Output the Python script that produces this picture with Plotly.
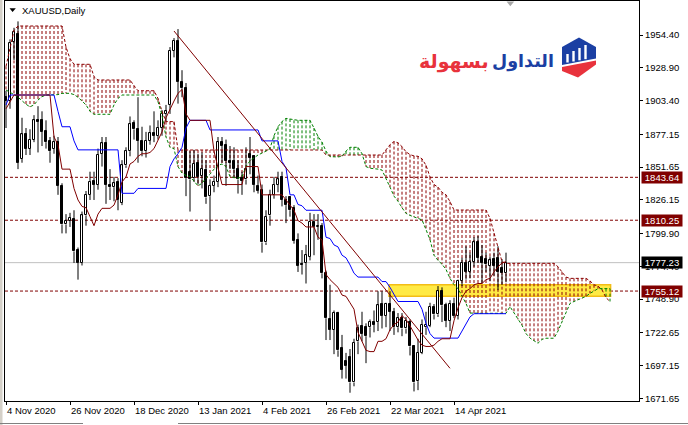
import pandas as pd
import plotly.graph_objects as go

# ---------------- data ----------------
holidays = ["2020-12-25", "2021-01-01", "2021-04-02"]
dates = [d for d in pd.bdate_range("2020-11-04", "2021-05-03")
         if d.strftime("%Y-%m-%d") not in holidays]

opens = [
    1906, 1903, 1949, 1955, 1858, 1877, 1866, 1873, 1888, 1888,
    1880, 1872, 1866, 1871, 1837, 1807, 1810, 1811, 1787, 1777,
    1814, 1830, 1841, 1838, 1862, 1870, 1838, 1836, 1840, 1824,
    1853, 1864, 1886, 1881, 1872, 1864, 1872, 1878, 1876, 1882,
    1893, 1900, 1942, 1950, 1918, 1913, 1848, 1843, 1855, 1845,
    1849, 1829, 1837, 1840, 1871, 1869, 1856, 1856, 1850, 1843,
    1842, 1862, 1860, 1837, 1834, 1793, 1814, 1830, 1838, 1844,
    1826, 1828, 1820, 1795, 1776, 1777, 1782, 1809, 1805, 1806,
    1769, 1733, 1725, 1738, 1711, 1701, 1704, 1684, 1716, 1728,
    1727, 1727, 1731, 1731, 1745, 1736, 1745, 1739, 1727, 1734,
    1726, 1731, 1712, 1685, 1707, 1727, 1728, 1743, 1737, 1755,
    1744, 1732, 1745, 1736, 1763, 1777, 1770, 1778, 1793, 1782,
    1780, 1775, 1780, 1781, 1773, 1769]
highs = [
    1911, 1951, 1960, 1965, 1890, 1882, 1881, 1892, 1899, 1895,
    1888, 1875, 1876, 1875, 1839, 1815, 1816, 1818, 1789, 1817,
    1833, 1848, 1848, 1866, 1875, 1875, 1850, 1844, 1843, 1857,
    1867, 1891, 1888, 1906, 1883, 1879, 1884, 1895, 1888, 1896,
    1900, 1945, 1952, 1959, 1927, 1917, 1864, 1865, 1862, 1863,
    1857, 1842, 1845, 1875, 1875, 1873, 1868, 1867, 1857, 1848,
    1867, 1875, 1861, 1845, 1838, 1818, 1834, 1844, 1848, 1848,
    1829, 1829, 1822, 1800, 1787, 1791, 1816, 1815, 1815, 1808,
    1771, 1760, 1740, 1739, 1721, 1707, 1710, 1718, 1729, 1739,
    1730, 1733, 1740, 1755, 1755, 1746, 1755, 1742, 1738, 1738,
    1735, 1733, 1713, 1718, 1733, 1739, 1746, 1745, 1759, 1758,
    1746, 1748, 1750, 1764, 1781, 1790, 1785, 1797, 1798, 1791,
    1785, 1782, 1785, 1790, 1780, 1785]
lows = [
    1882, 1897, 1935, 1850, 1855, 1861, 1861, 1871, 1863, 1868,
    1866, 1855, 1862, 1830, 1800, 1800, 1805, 1777, 1764, 1775,
    1806, 1826, 1826, 1834, 1852, 1823, 1826, 1825, 1818, 1822,
    1851, 1860, 1873, 1855, 1860, 1859, 1869, 1871, 1873, 1876,
    1887, 1893, 1937, 1901, 1906, 1829, 1817, 1840, 1838, 1835,
    1823, 1802, 1832, 1836, 1855, 1837, 1850, 1843, 1831, 1830,
    1838, 1846, 1832, 1831, 1785, 1791, 1806, 1827, 1832, 1821,
    1808, 1813, 1792, 1770, 1768, 1761, 1779, 1783, 1795, 1765,
    1717, 1717, 1706, 1704, 1687, 1687, 1676, 1681, 1706, 1716,
    1699, 1719, 1723, 1724, 1726, 1727, 1724, 1721, 1723, 1720,
    1722, 1705, 1677, 1678, 1706, 1721, 1727, 1733, 1735, 1731,
    1727, 1724, 1734, 1733, 1759, 1764, 1765, 1774, 1777, 1761,
    1770, 1763, 1767, 1756, 1760, 1762]
closes = [
    1903, 1948, 1957, 1855, 1877, 1866, 1873, 1888, 1887, 1879,
    1871, 1864, 1871, 1837, 1807, 1810, 1812, 1786, 1777, 1814,
    1830, 1840, 1838, 1861, 1870, 1838, 1836, 1839, 1826, 1853,
    1864, 1885, 1881, 1872, 1864, 1872, 1878, 1876, 1882, 1893,
    1895, 1942, 1950, 1918, 1913, 1843, 1842, 1854, 1844, 1850,
    1828, 1837, 1840, 1871, 1868, 1856, 1855, 1850, 1842, 1841,
    1850, 1859, 1838, 1833, 1793, 1813, 1830, 1838, 1842, 1826,
    1822, 1818, 1794, 1775, 1775.5, 1783, 1809, 1805, 1806, 1769,
    1734, 1725, 1738, 1709, 1694, 1697, 1684, 1715, 1726, 1722,
    1720, 1731, 1729, 1744, 1736, 1745, 1739, 1727, 1734, 1726,
    1732, 1712, 1684, 1707, 1729, 1729, 1743, 1737, 1755, 1744,
    1732, 1745, 1736, 1763, 1777, 1770, 1778, 1793, 1781, 1777,
    1776, 1779, 1775, 1770, 1769, 1777.23]

tenkan = [
    1897, 1902, 1907.7, 1907.7, 1907.7, 1907.7, 1907.7, 1907.7, 1907.7, 1907.7,
    1907.7, 1907.7, 1875, 1869, 1850, 1850, 1850, 1835, 1826, 1821,
    1820, 1813, 1806, 1815, 1819.5, 1819.5, 1819.5, 1822, 1830, 1840,
    1844, 1854, 1856, 1860, 1862, 1862, 1863, 1866, 1873, 1879,
    1890, 1897, 1903, 1909, 1912, 1893, 1888, 1888, 1888, 1888,
    1888, 1888, 1864, 1852, 1838, 1838, 1838, 1838, 1838, 1838,
    1852, 1852, 1852, 1852, 1830, 1830, 1830, 1830, 1830, 1830,
    1826, 1822, 1818, 1810, 1808, 1805, 1805, 1805, 1797, 1795,
    1768, 1764, 1761, 1758, 1752, 1751, 1746, 1741, 1723, 1716,
    1709, 1708, 1708, 1716, 1716, 1718, 1725, 1729, 1731, 1736,
    1733, 1728, 1722, 1717, 1713, 1712, 1712, 1713, 1716, 1718,
    1718, 1718, 1732, 1742, 1750, 1755, 1757, 1760, 1761, 1761,
    1764, 1765, 1770, 1774, 1777, 1778]
kijun = [
    1900, 1907.7, 1907.7, 1907.7, 1907.7, 1907.7, 1907.7, 1907.7, 1907.7, 1907.7,
    1907.7, 1907.7, 1907.7, 1895, 1883, 1883, 1883, 1872, 1865, 1865,
    1865, 1865, 1865, 1865, 1865, 1865, 1865, 1865, 1865, 1831.2,
    1831.2, 1831.2, 1831.2, 1835, 1835, 1835, 1835, 1835, 1835, 1835,
    1835, 1852, 1858, 1862, 1867, 1882, 1888, 1888, 1888, 1888,
    1888, 1880.5, 1880.5, 1880.5, 1880.5, 1880.5, 1880.5, 1880.5, 1880.5, 1880.5,
    1880.5, 1880.5, 1880.5, 1880.5, 1872, 1872, 1872, 1872, 1872, 1856,
    1851, 1830, 1830, 1822.5, 1821.5, 1818, 1818, 1818, 1818, 1818,
    1797, 1796, 1791, 1789.5, 1783, 1781, 1775.5, 1769, 1766, 1766,
    1766, 1766, 1766, 1766, 1762.5, 1762.5, 1758, 1752, 1747, 1747,
    1747, 1747, 1747, 1747, 1741, 1730, 1722, 1718.5, 1718.5, 1718.5,
    1718.5, 1718.5, 1718.5, 1718.5, 1724, 1730, 1735, 1737.5, 1737.5, 1737.5,
    1737.5, 1737.5, 1737.5, 1737.5, 1737.5, 1737.5]
span_a = [
    1911.6, 1910, 1908, 1906, 1903, 1900.5, 1898.5, 1900, 1903.8, 1906.4,
    1907.7, 1907.7, 1907.7, 1908, 1909, 1909, 1909, 1908, 1906, 1903,
    1900, 1895, 1892.7, 1892.7, 1892.7, 1892.7, 1892.7, 1900, 1905, 1907.7,
    1907.7, 1907.7, 1907.7, 1907.7, 1907.7, 1907.7, 1907.7, 1907.7, 1902.5, 1892,
    1875, 1867, 1866, 1852, 1847, 1845, 1844.3, 1841, 1837, 1839,
    1843, 1846, 1850, 1853, 1854, 1852, 1844.3, 1843.5, 1843, 1844,
    1852, 1856.5, 1859, 1861, 1862.5, 1864, 1866.2, 1876, 1883, 1887,
    1889.5, 1889, 1888, 1888, 1888, 1888, 1888, 1882, 1875.5, 1871,
    1864, 1859.7, 1859.5, 1859.5, 1860, 1864, 1867, 1867, 1867, 1862,
    1852, 1850.7, 1850.5, 1850, 1849.3, 1842, 1836, 1829, 1825, 1820,
    1815.6, 1814, 1813, 1812, 1810.5, 1803, 1795, 1783, 1779, 1776,
    1772, 1765, 1760, 1757, 1751, 1745.5, 1738, 1737.8, 1737.8, 1737.8,
    1737.8, 1737.8, 1737.8, 1737.8, 1737.8, 1737.8, 1743, 1738, 1733, 1728.5,
    1722, 1718.5, 1716.5, 1714.5, 1717.5, 1718.4, 1718.4, 1718.4, 1724, 1731,
    1739, 1745.5, 1747, 1748.4, 1749.2, 1751, 1753.3, 1755.5, 1757, 1757,
    1757, 1757]
span_b = [
    1930, 1945, 1958, 1961.4, 1961.4, 1961.4, 1961.4, 1961.4, 1961.4, 1961.4,
    1961.4, 1961.4, 1961.4, 1961.4, 1961.4, 1945, 1936, 1931.6, 1931.6, 1931.6,
    1931.6, 1931.6, 1922, 1919.4, 1919.4, 1919.4, 1919.4, 1919.4, 1919.4, 1919.4,
    1919.4, 1919.4, 1915, 1911, 1911, 1911, 1911, 1911, 1905, 1895,
    1887, 1887, 1887, 1864.9, 1864.9, 1864.9, 1864.9, 1864.9, 1864.9, 1864.9,
    1864.9, 1864.9, 1864.9, 1864.9, 1864.9, 1864.9, 1864.9, 1864.9, 1864.9, 1864.9,
    1864.9, 1864.9, 1864.9, 1864.9, 1864.9, 1864.9, 1864.9, 1864.9, 1864.9, 1864.9,
    1864.9, 1864.9, 1864.9, 1864.9, 1864.9, 1864.9, 1864.9, 1864.9, 1864.9, 1864.9,
    1861, 1861, 1861, 1861, 1861, 1861, 1861, 1861, 1861, 1861,
    1861, 1861, 1861, 1861, 1861, 1865, 1869, 1871.5, 1870.5, 1867.5,
    1863.5, 1861.3, 1860.3, 1860, 1858, 1853, 1844, 1838, 1836, 1832,
    1830, 1824.7, 1818.2, 1818.2, 1818.2, 1818.2, 1818.2, 1818.2, 1818.2, 1818.2,
    1818.2, 1811.7, 1800, 1788, 1778, 1776.7, 1776.7, 1776.7, 1776.7, 1776.7,
    1776.7, 1776.7, 1776.7, 1776.7, 1776.7, 1776.7, 1776.7, 1776.7, 1774, 1770,
    1766, 1765, 1765, 1765, 1765, 1765, 1763, 1760, 1759, 1756,
    1750, 1747]

x_tick_labels = ["4 Nov 2020", "26 Nov 2020", "18 Dec 2020", "13 Jan 2021",
                 "4 Feb 2021", "26 Feb 2021", "22 Mar 2021", "14 Apr 2021"]
y_tick_values = [1954.40, 1928.90, 1903.40, 1877.15, 1851.65, 1826.15,
                 1799.90, 1774.40, 1748.90, 1722.65, 1697.15, 1671.65]
level_prices = [1843.64, 1810.25, 1755.12]
current_price = 1777.23
trend_dates = ["2021-01-05", "2021-04-13"]
trend_prices = [1957.5, 1695.0]
zone_dates = ["2021-03-22"]
zone_prices = [1751.0, 1760.0]
symbol_title = "XAUUSD,Daily"
brand_blue = "التداول"
brand_red = "بسهولة"

# ---------------- geometry helpers ----------------
W, H = 688, 425
ML, MR, MT, MB = 5, 49, 1, 24
PW, PH = W - ML - MR, H - MT - MB


def px(x):
    return (x - ML) / PW


def py(y):
    return (H - MB - y) / PH


date_index = {d.strftime("%Y-%m-%d"): i for i, d in enumerate(dates)}
n = len(dates)
x_bars = list(range(n))
x_cloud = list(range(len(span_a)))
tick_idx = [date_index[pd.to_datetime(t, format="%d %b %Y").strftime("%Y-%m-%d")]
            for t in x_tick_labels]

MAROON = "#800000"
DOTRED = "#8B0000"
GREEN = "#008000"
BLUE = "#0000FF"

shapes = []
# window border bits
shapes.append(dict(type="rect", xref="paper", yref="paper", x0=px(0), x1=px(2.5),
                   y0=py(425), y1=py(0), fillcolor="#D4D0C8", line_width=0, layer="below"))
for a, b in [(0, 83), (178, 688)]:
    shapes.append(dict(type="line", xref="paper", yref="paper", x0=px(a), x1=px(b),
                       y0=py(423.5), y1=py(423.5), line=dict(color="#808080", width=1)))

# yellow zone
zs = date_index[zone_dates[0]] - 0.25
shapes.append(dict(type="rect", xref="x", yref="y", x0=zs, x1=len(span_a) - 0.85,
                   y0=zone_prices[0], y1=zone_prices[1], fillcolor="#FFEA45",
                   line=dict(color="#F3BD16", width=1.5), layer="below"))

# cloud hatching
for i in x_cloud:
    a, b = span_a[i], span_b[i]
    if abs(a - b) < 0.3:
        continue
    col = DOTRED if b > a else GREEN
    shapes.append(dict(type="line", xref="x", yref="y", x0=i, x1=i, y0=max(a, b), y1=min(a, b),
                       line=dict(color=col, width=1, dash="3px,2px"), layer="below"))

# horizontal levels
for p in level_prices:
    shapes.append(dict(type="line", xref="paper", yref="y", x0=0, x1=1, y0=p, y1=p,
                       line=dict(color=MAROON, width=1, dash="3px,2px"), layer="below"))
shapes.append(dict(type="line", xref="paper", yref="y", x0=0, x1=1, y0=current_price,
                   y1=current_price, line=dict(color="#C0C0C0", width=1), layer="below"))

# small triangles
shapes.append(dict(type="path", xref="paper", yref="paper",
                   path=f"M {px(9.5)} {py(8.3)} L {px(15.8)} {py(8.3)} L {px(12.6)} {py(12)} Z",
                   fillcolor="black", line_width=0))
shapes.append(dict(type="path", xref="paper", yref="paper",
                   path=f"M {px(506.5)} {py(1.5)} L {px(514.2)} {py(1.5)} L {px(510.3)} {py(6.2)} Z",
                   fillcolor="#A8A8A8", line_width=0))


# logo icon
def path(points):
    return "M " + " L ".join(f"{px(a)} {py(b)}" for a, b in points) + " Z"


shapes.append(dict(type="path", xref="paper", yref="paper",
                   path=path([(562, 47), (579, 37.5), (596, 47), (596, 58.5), (562, 65)]),
                   fillcolor="#1B3FA3", line_width=0))
shapes.append(dict(type="path", xref="paper", yref="paper",
                   path=path([(562, 67), (596, 60.5), (596, 64.5), (578, 77.5), (562, 71)]),
                   fillcolor="#E8323C", line_width=0))
for bx, top, bot in [(567.5, 54, 62.5), (573.5, 51, 61.5), (579.5, 48, 60.3), (585.5, 45, 59.2)]:
    shapes.append(dict(type="rect", xref="paper", yref="paper", x0=px(bx - 1.2), x1=px(bx + 1.2),
                       y0=py(bot), y1=py(top), fillcolor="white", line_width=0))

# ---------------- traces ----------------
fig = go.Figure()

up = [i for i in x_bars if closes[i] >= opens[i]]
dn = [i for i in x_bars if closes[i] < opens[i]]
fig.add_trace(go.Bar(x=up, base=[opens[i] for i in up], y=[closes[i] - opens[i] for i in up],
                     width=0.72, marker=dict(color="white", line=dict(color="black", width=1)),
                     hoverinfo="skip"))
fig.add_trace(go.Bar(x=dn, base=[closes[i] for i in dn], y=[opens[i] - closes[i] for i in dn],
                     width=0.72, marker=dict(color="black", line=dict(color="black", width=1)),
                     hoverinfo="skip"))

wx, wy = [], []
for i in x_bars:
    top, bot = max(opens[i], closes[i]), min(opens[i], closes[i])
    wx += [i, i, None, i, i, None]
    wy += [highs[i], top, None, bot, lows[i], None]
fig.add_trace(go.Scatter(x=wx, y=wy, mode="lines", line=dict(color="black", width=1),
                         hoverinfo="skip"))

fig.add_trace(go.Scatter(x=x_cloud, y=span_b, mode="lines",
                         line=dict(color=DOTRED, width=1, dash="3px,2px")))
fig.add_trace(go.Scatter(x=x_cloud, y=span_a, mode="lines",
                         line=dict(color=GREEN, width=1, dash="3px,2px")))
fig.add_trace(go.Scatter(x=x_bars, y=kijun, mode="lines", line=dict(color=BLUE, width=1)))
fig.add_trace(go.Scatter(x=x_bars, y=tenkan, mode="lines", line=dict(color=MAROON, width=1)))
fig.add_trace(go.Scatter(x=[date_index[d] for d in trend_dates], y=trend_prices, mode="lines",
                         line=dict(color=MAROON, width=1)))

# ---------------- annotations ----------------
FONT = "Liberation Sans"
ann = []
for t, i in zip(x_tick_labels, tick_idx):
    ann.append(dict(text=t, xref="x", yref="paper", x=i, y=py(410.5), xanchor="left",
                    yanchor="middle", xshift=-1.5, showarrow=False,
                    font=dict(family=FONT, size=9.5, color="black")))
for p in level_prices:
    ann.append(dict(text=f"{p:.2f}", xref="paper", yref="y", x=px(641), y=p, xanchor="left",
                    yanchor="middle", showarrow=False, bgcolor=MAROON, borderpad=1,
                    width=38, height=9, font=dict(family=FONT, size=9.5, color="white")))
ann.append(dict(text=f"{current_price:.2f}", xref="paper", yref="y", x=px(641), y=current_price,
                xanchor="left", yanchor="middle", showarrow=False, bgcolor="black", borderpad=1,
                width=38, height=9, font=dict(family=FONT, size=9.5, color="white")))
ann.append(dict(text=symbol_title, xref="paper", yref="paper", x=px(20), y=py(10.5),
                xanchor="left", yanchor="middle", showarrow=False,
                font=dict(family=FONT, size=9.5, color="black")))
ann.append(dict(text=f"<b>{brand_blue}</b>", xref="paper", yref="paper", x=px(556), y=py(61),
                xanchor="right", yanchor="middle", showarrow=False,
                font=dict(family="DejaVu Sans", size=17.5, color="#1B3FA3")))
ann.append(dict(text=f"<b>{brand_red}</b>", xref="paper", yref="paper", x=px(491), y=py(61),
                xanchor="right", yanchor="middle", showarrow=False,
                font=dict(family="DejaVu Sans", size=19, color="#E8323C")))

y_top = 1954.40 + (35 - MT) / 1.2849
y_bot = 1954.40 - (H - MB - 35) / 1.2849

fig.update_layout(
    width=W, height=H, margin=dict(l=ML, r=MR, t=MT, b=MB, pad=0),
    plot_bgcolor="white", paper_bgcolor="white", showlegend=False,
    barmode="overlay", bargap=0, shapes=shapes, annotations=ann,
    font=dict(family=FONT, size=9.5, color="black"),
    xaxis=dict(range=[-0.25, PW / 4 - 0.25], showgrid=False, zeroline=False, showline=True,
               linecolor="black", linewidth=1, mirror=True, ticks="outside", ticklen=3,
               tickcolor="black", tickvals=tick_idx, showticklabels=False, fixedrange=True,
               automargin=False),
    yaxis=dict(range=[y_bot, y_top], side="right", showgrid=False, zeroline=False,
               showline=True, linecolor="black", linewidth=1, mirror=True, ticks="outside",
               ticklen=3, tickcolor="black", tickvals=y_tick_values,
               ticktext=[f"{v:.2f}" for v in y_tick_values],
               tickfont=dict(family=FONT, size=9.5, color="black"), fixedrange=True,
               automargin=False),
)

fig.write_html("out.html", config={"displayModeBar": False},
               post_script="document.body.style.margin='0px';")
